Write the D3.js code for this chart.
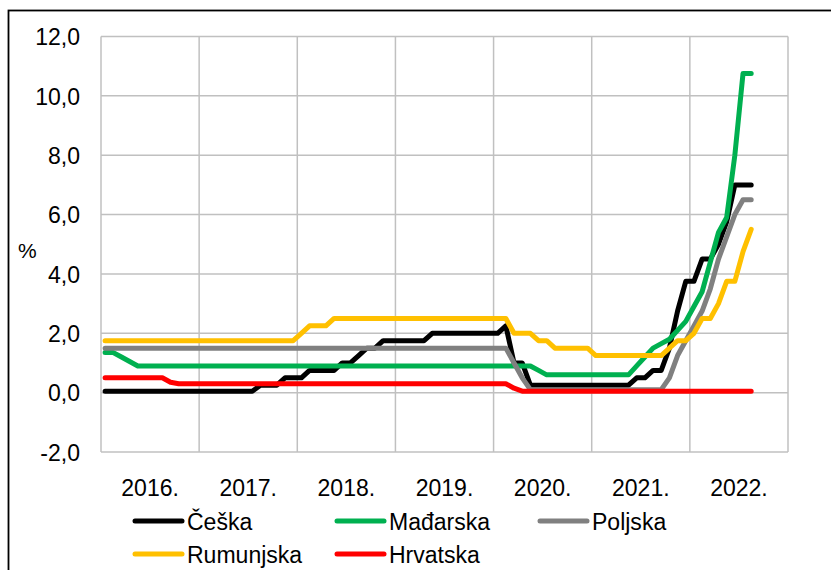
<!DOCTYPE html>
<html>
<head>
<meta charset="utf-8">
<script src="https://cdn.jsdelivr.net/npm/d3@7"></script>
<style>
  body { margin: 0; background: #fff; }
  text { font-family: "Liberation Sans", Arial, sans-serif; fill: #000; }
</style>
</head>
<body>
<svg id="chart" width="831" height="570"></svg>
<script>
// year labels (one band = 12 months)
const years = ['2016.', '2017.', '2018.', '2019.', '2020.', '2021.', '2022.'];
const yTicks = [-2, 0, 2, 4, 6, 8, 10, 12];

// monthly values, Jan 2016 - Aug 2022
const ceska = [
  0.05, 0.05, 0.05, 0.05, 0.05, 0.05, 0.05, 0.05, 0.05, 0.05, 0.05, 0.05,
  0.05, 0.05, 0.05, 0.05, 0.05, 0.05, 0.05, 0.25, 0.25, 0.25, 0.5, 0.5,
  0.5, 0.75, 0.75, 0.75, 0.75, 1.0, 1.0, 1.25, 1.5, 1.5, 1.75, 1.75,
  1.75, 1.75, 1.75, 1.75, 2.0, 2.0, 2.0, 2.0, 2.0, 2.0, 2.0, 2.0,
  2.0, 2.25, 1.0, 1.0, 0.25, 0.25, 0.25, 0.25, 0.25, 0.25, 0.25, 0.25,
  0.25, 0.25, 0.25, 0.25, 0.25, 0.5, 0.5, 0.75, 0.75, 1.5, 2.75, 3.75,
  3.75, 4.5, 4.5, 5.0, 5.75, 7.0, 7.0, 7.0
];
const madjarska = [
  1.35, 1.35, 1.2, 1.05, 0.9, 0.9, 0.9, 0.9, 0.9, 0.9, 0.9, 0.9,
  0.9, 0.9, 0.9, 0.9, 0.9, 0.9, 0.9, 0.9, 0.9, 0.9, 0.9, 0.9,
  0.9, 0.9, 0.9, 0.9, 0.9, 0.9, 0.9, 0.9, 0.9, 0.9, 0.9, 0.9,
  0.9, 0.9, 0.9, 0.9, 0.9, 0.9, 0.9, 0.9, 0.9, 0.9, 0.9, 0.9,
  0.9, 0.9, 0.9, 0.9, 0.9, 0.75, 0.6, 0.6, 0.6, 0.6, 0.6, 0.6,
  0.6, 0.6, 0.6, 0.6, 0.6, 0.9, 1.2, 1.5, 1.65, 1.8, 2.1, 2.4,
  2.9, 3.4, 4.4, 5.4, 5.9, 8.0, 10.75, 10.75
];
const poljska = [
  1.5, 1.5, 1.5, 1.5, 1.5, 1.5, 1.5, 1.5, 1.5, 1.5, 1.5, 1.5,
  1.5, 1.5, 1.5, 1.5, 1.5, 1.5, 1.5, 1.5, 1.5, 1.5, 1.5, 1.5,
  1.5, 1.5, 1.5, 1.5, 1.5, 1.5, 1.5, 1.5, 1.5, 1.5, 1.5, 1.5,
  1.5, 1.5, 1.5, 1.5, 1.5, 1.5, 1.5, 1.5, 1.5, 1.5, 1.5, 1.5,
  1.5, 1.5, 1.0, 0.5, 0.1, 0.1, 0.1, 0.1, 0.1, 0.1, 0.1, 0.1,
  0.1, 0.1, 0.1, 0.1, 0.1, 0.1, 0.1, 0.1, 0.1, 0.5, 1.25, 1.75,
  2.25, 2.75, 3.5, 4.5, 5.25, 6.0, 6.5, 6.5
];
const rumunjska = [
  1.75, 1.75, 1.75, 1.75, 1.75, 1.75, 1.75, 1.75, 1.75, 1.75, 1.75, 1.75,
  1.75, 1.75, 1.75, 1.75, 1.75, 1.75, 1.75, 1.75, 1.75, 1.75, 1.75, 1.75,
  2.0, 2.25, 2.25, 2.25, 2.5, 2.5, 2.5, 2.5, 2.5, 2.5, 2.5, 2.5,
  2.5, 2.5, 2.5, 2.5, 2.5, 2.5, 2.5, 2.5, 2.5, 2.5, 2.5, 2.5,
  2.5, 2.5, 2.0, 2.0, 2.0, 1.75, 1.75, 1.5, 1.5, 1.5, 1.5, 1.5,
  1.25, 1.25, 1.25, 1.25, 1.25, 1.25, 1.25, 1.25, 1.25, 1.5, 1.75, 1.75,
  2.0, 2.5, 2.5, 3.0, 3.75, 3.75, 4.75, 5.5
];
const hrvatska = [
  0.5, 0.5, 0.5, 0.5, 0.5, 0.5, 0.5, 0.5, 0.35, 0.3, 0.3, 0.3,
  0.3, 0.3, 0.3, 0.3, 0.3, 0.3, 0.3, 0.3, 0.3, 0.3, 0.3, 0.3,
  0.3, 0.3, 0.3, 0.3, 0.3, 0.3, 0.3, 0.3, 0.3, 0.3, 0.3, 0.3,
  0.3, 0.3, 0.3, 0.3, 0.3, 0.3, 0.3, 0.3, 0.3, 0.3, 0.3, 0.3,
  0.3, 0.3, 0.15, 0.05, 0.05, 0.05, 0.05, 0.05, 0.05, 0.05, 0.05, 0.05,
  0.05, 0.05, 0.05, 0.05, 0.05, 0.05, 0.05, 0.05, 0.05, 0.05, 0.05, 0.05,
  0.05, 0.05, 0.05, 0.05, 0.05, 0.05, 0.05, 0.05
];

const series = [
  { name: 'Češka', values: ceska, color: '#000000' },
  { name: 'Mađarska', values: madjarska, color: '#00b050' },
  { name: 'Poljska', values: poljska, color: '#808080' },
  { name: 'Rumunjska', values: rumunjska, color: '#ffc000' },
  { name: 'Hrvatska', values: hrvatska, color: '#ff0000' }
];

const plot = { left: 101, right: 788, top: 36.5, bottom: 452 };
const fontSize = 24.5;
const squeeze = 0.94; // text in the original is a little tall and narrow

const svg = d3.select('#chart');

// outer frame (runs off the right and bottom edge)
svg.append('rect')
   .attr('x', 8.5).attr('y', 10.5)
   .attr('width', 840).attr('height', 580)
   .attr('fill', 'none')
   .attr('stroke', '#000')
   .attr('stroke-width', 1.8);

const xBand = d3.scaleBand().domain(years).range([plot.left, plot.right]);
const xMonth = d3.scaleLinear().domain([0, years.length * 12]).range([plot.left, plot.right]);
const y = d3.scaleLinear().domain([-2, 12]).range([plot.bottom, plot.top]);

// horizontal grid
svg.append('g')
   .selectAll('line')
   .data(yTicks)
   .enter()
   .append('line')
   .attr('x1', plot.left).attr('x2', plot.right)
   .attr('y1', d => y(d)).attr('y2', d => y(d))
   .attr('stroke', '#c0c0c0')
   .attr('stroke-width', 1.5);

// vertical grid at year boundaries
const bounds = years.map(d => xBand(d)).concat([plot.right]);
svg.append('g')
   .selectAll('line')
   .data(bounds)
   .enter()
   .append('line')
   .attr('x1', d => d).attr('x2', d => d)
   .attr('y1', plot.top).attr('y2', plot.bottom)
   .attr('stroke', '#c0c0c0')
   .attr('stroke-width', 1.5);

// y axis labels
const yAxis = d3.axisLeft(y)
                .tickValues(yTicks)
                .tickSize(0)
                .tickFormat(d => d3.format('.1f')(d).replace('.', ',').replace('−', '-'));
const gy = svg.append('g')
              .attr('transform', `translate(${plot.left}, 0)`)
              .call(yAxis);
gy.select('.domain').remove();
gy.selectAll('text')
  .attr('font-size', fontSize)
  .attr('x', -21 / squeeze)
  .attr('dy', '0.34em')
  .attr('transform', `scale(${squeeze},1)`)
  .style('font-family', '"Liberation Sans", Arial, sans-serif');

svg.append('text')
   .attr('x', 18).attr('y', 258)
   .attr('font-size', 21)
   .text('%');

// x axis labels
const xAxis = d3.axisBottom(xBand).tickSize(0).tickPadding(0);
const gx = svg.append('g')
              .attr('transform', `translate(0, ${plot.bottom})`)
              .call(xAxis);
gx.select('.domain').remove();
gx.selectAll('text')
  .attr('font-size', fontSize)
  .attr('dy', 0)
  .attr('y', 44)
  .attr('transform', `scale(${squeeze},1)`)
  .style('font-family', '"Liberation Sans", Arial, sans-serif');

// lines
const line = d3.line()
               .x((d, i) => xMonth(i + 0.5))
               .y(d => y(d));

svg.append('g')
   .selectAll('path')
   .data(series)
   .enter()
   .append('path')
   .attr('d', d => line(d.values))
   .attr('fill', 'none')
   .attr('stroke', d => d.color)
   .attr('stroke-width', 5)
   .attr('stroke-linejoin', 'round')
   .attr('stroke-linecap', 'round');

// legend
const legendPos = [
  { x: 135, y: 521 }, { x: 337, y: 521 }, { x: 540, y: 521 },
  { x: 135, y: 554 }, { x: 337, y: 554 }
];
const legend = svg.append('g')
                  .selectAll('g')
                  .data(series)
                  .enter()
                  .append('g')
                  .attr('transform', (d, i) => `translate(${legendPos[i].x}, ${legendPos[i].y})`);
legend.append('line')
      .attr('x1', 0).attr('x2', 47)
      .attr('stroke', d => d.color)
      .attr('stroke-width', 5)
      .attr('stroke-linecap', 'round');
legend.append('text')
      .attr('x', 52 / squeeze).attr('y', 8.5)
      .attr('font-size', fontSize)
      .attr('transform', `scale(${squeeze},1)`)
      .text(d => d.name);
</script>
</body>
</html>
